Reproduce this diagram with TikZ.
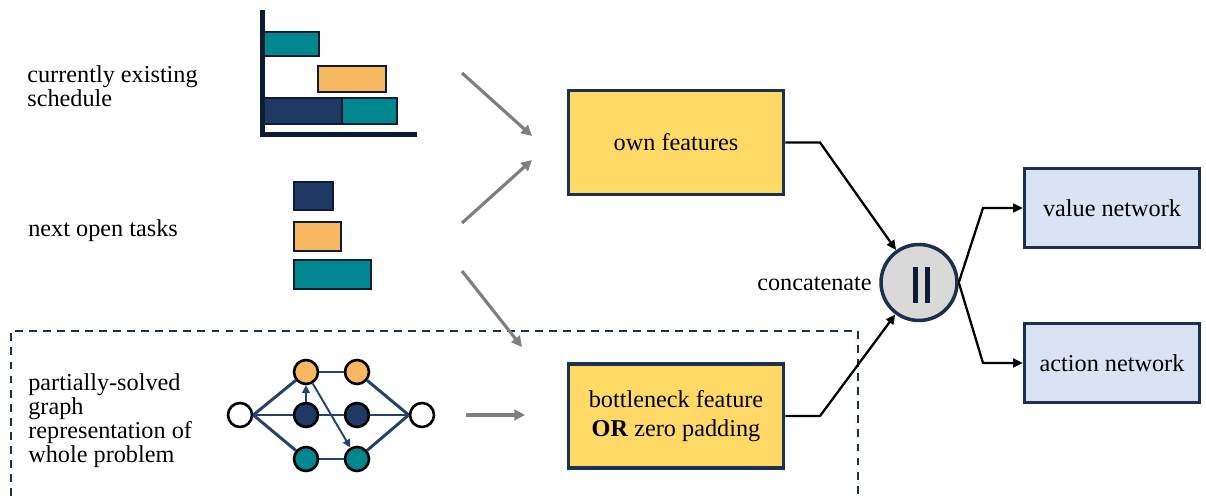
\documentclass[tikz,border=0pt]{standalone}
\usepackage{fontspec}
\setmainfont{Liberation Serif}
\usetikzlibrary{arrows.meta}

\definecolor{ink}{HTML}{0E1C33}
\definecolor{navybar}{HTML}{1F3864}
\definecolor{tealbar}{HTML}{00868F}
\definecolor{orangebar}{HTML}{F8B862}
\definecolor{edgeblue}{HTML}{24426E}
\definecolor{boxline}{HTML}{1B2F4E}
\definecolor{boxyellow}{HTML}{FFD966}
\definecolor{boxblue}{HTML}{DAE3F3}
\definecolor{circgray}{HTML}{D9D9D9}
\definecolor{feedgray}{HTML}{7F7F7F}

\tikzset{
  bar/.style={draw=ink, line width=1.5pt},
  feat/.style={draw=boxline, line width=2.2pt, fill=boxyellow, align=center,
    minimum width=4.3cm, minimum height=2.08cm, inner sep=0pt},
  net/.style={draw=boxline, line width=2pt, fill=boxblue,
    minimum width=3.5cm, minimum height=1.58cm, inner sep=0pt},
  desc/.style={anchor=west, align=left, inner sep=0pt},
  gnode/.style={circle, draw=black, line width=1.5pt, minimum size=0.48cm, inner sep=0pt},
  gedge/.style={draw=edgeblue, line width=1.7pt},
  feed/.style={draw=feedgray, line width=1.8pt, -{Triangle[length=6pt,width=6pt]}},
  link/.style={draw=black, line width=1.3pt, -{Triangle[length=5.5pt,width=5pt]}},
}

\begin{document}
\begin{tikzpicture}[x=0.02cm, y=-0.02cm, font=\fontsize{13.8}{13.6}\selectfont]
\useasboundingbox (0,0) rectangle (1206,499);

% input descriptions
\node[desc] (sched) at (27,86) {currently existing\\schedule};
\node[desc] (tasks) at (28,231) {next open tasks};
\node[desc] (whole) at (28,421) {partially-solved\\graph\\representation of\\whole problem};

% schedule chart
\draw[bar, fill=tealbar] (264,32) rectangle (319,56);
\draw[bar, fill=orangebar] (318,66) rectangle (386,92);
\draw[bar, fill=navybar] (264,98) rectangle (342,124);
\draw[bar, fill=tealbar] (342,98) rectangle (397,124);
\draw[ink, line width=2.9pt] (262.5,10) -- (262.5,134.5) -- (417,134.5);

% open tasks
\draw[bar, fill=navybar] (294,182) rectangle (333,210);
\draw[bar, fill=orangebar] (294,222) rectangle (341,251);
\draw[bar, fill=tealbar] (294,260) rectangle (371,289);

% problem graph
\node[gnode, fill=white] (L) at (240,415) {};
\node[gnode, fill=orangebar] (O1) at (306,372) {};
\node[gnode, fill=orangebar] (O2) at (357,372) {};
\node[gnode, fill=navybar] (N1) at (306,415) {};
\node[gnode, fill=navybar] (N2) at (357,415) {};
\node[gnode, fill=tealbar] (T1) at (306,459) {};
\node[gnode, fill=tealbar] (T2) at (357,459) {};
\node[gnode, fill=white] (R) at (422,415) {};
\draw[gedge] (L.east) -- (O1);
\draw[gedge] (L.east) -- (N1);
\draw[gedge] (L.east) -- (T1);
\draw[gedge] (O1) -- (O2);
\draw[gedge] (N1) -- (N2);
\draw[gedge] (T1) -- (T2);
\draw[gedge] (O2) -- (R.west);
\draw[gedge] (N2) -- (R.west);
\draw[gedge] (T2) -- (R.west);
\draw[edgeblue, line width=1.1pt, -{Triangle[length=4.5pt,width=4.5pt]}] (N1) -- (O1);
\draw[edgeblue, line width=1.1pt, -{Triangle[length=4.5pt,width=4.5pt]}] (O1) -- (T2);

% dashed frame round the graph part
\draw[boxline, line width=1.1pt, dash pattern=on 4.5pt off 3.5pt] (11,510) -- (11,331) -- (858,331) -- (858,510);

% feature boxes
\node[feat] (own) at (676,142.5) {own features};
\node[feat] (bneck) at (676,416) {bottleneck feature\\[2.8pt]\textbf{OR} zero padding};

% gray feed arrows
\coordinate (f1) at (462,73);  \coordinate (f1e) at (532,136);
\coordinate (f2) at (462,223); \coordinate (f2e) at (532,160);
\coordinate (f3) at (462,271); \coordinate (f3e) at (522,347);
\coordinate (f4) at (466,415); \coordinate (f4e) at (525,415);
\draw[feed] (f1) -- (f1e);
\draw[feed] (f2) -- (f2e);
\draw[feed] (f3) -- (f3e);
\draw[feed] (f4) -- (f4e);

% concatenation
\node[circle, draw=boxline, line width=2pt, fill=circgray, minimum size=1.52cm] (cc) at (919,282.5) {};
\fill[ink] (913,267) rectangle (918,303);
\fill[ink] (925,267) rectangle (930,303);
\node[anchor=east, inner sep=0pt] (cat) at (872,284) {concatenate};

% output networks
\node[net] (val) at (1112,208) {value network};
\node[net] (act) at (1112,363) {action network};

\draw[link] (own.east) -- (820,142.5) -- (cc);
\draw[link] (bneck.east) -- (820,416) -- (cc);
\draw[link] (cc.east) -- (983,208) -- (val.west);
\draw[link] (cc.east) -- (983,363) -- (act.west);
\end{tikzpicture}
\end{document}
